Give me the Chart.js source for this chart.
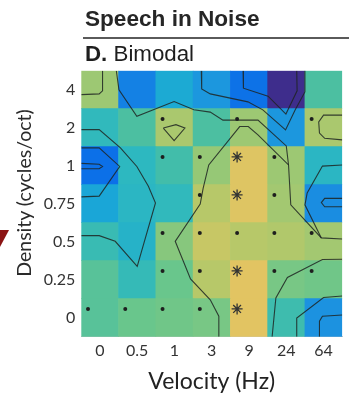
<!DOCTYPE html>
<html><head><meta charset="utf-8">
<script src="https://cdn.jsdelivr.net/npm/chart.js@4"></script>
<style>
html,body{margin:0;padding:0;background:#fff;}
#wrap{position:relative;width:349px;height:398px;overflow:hidden;background:#fff;}
#c{position:absolute;left:0;top:0;}
.t1{position:absolute;left:85px;top:8.2px;font:bold 22.6px "Liberation Sans",Arial,sans-serif;line-height:22px;color:#262626;white-space:nowrap;}
.rule{position:absolute;left:82.7px;right:0;top:36.8px;height:2px;background:#5a5a5a;}
.t2{position:absolute;left:85px;top:43.1px;font:22.3px "Liberation Sans",Arial,sans-serif;line-height:22px;color:#1e1e1e;white-space:nowrap;}
.t2 b{font-weight:bold;}
.ytitle{position:absolute;left:22.5px;top:193.3px;transform:translate(-50%,-50%) rotate(-90deg);font:19.5px Lato,sans-serif;color:#2a2a2a;white-space:nowrap;}
.arrow{position:absolute;left:0;top:230px;width:9px;height:17px;background:#8b1414;clip-path:polygon(0 0,100% 0,0 100%);}
</style>
</head><body>
<div id="wrap">
<canvas id="c" width="349" height="398"></canvas>
<div class="t1">Speech in Noise</div>
<div class="rule"></div>
<div class="t2"><b>D.</b> Bimodal</div>
<div class="ytitle">Density (cycles/oct)</div>
<div class="arrow"></div>
</div>
<script>
// ---- axes ----
const velocityLabels = ['0', '0.5', '1', '3', '9', '24', '64'];
const densityLabels = ['0', '0.25', '0.5', '0.75', '1', '2', '4']; // bottom -> top

// ---- heat map values (colour index: 0 = dark purple ... 0.76 = yellow), one array per density row ----
const heatD4   = [0.63, 0.20, 0.37, 0.29, 0.14, 0.00, 0.51];
const heatD2   = [0.45, 0.51, 0.65, 0.51, 0.63, 0.29, 0.65];
const heatD1   = [0.13, 0.44, 0.49, 0.62, 0.75, 0.63, 0.43];
const heatD075 = [0.35, 0.43, 0.45, 0.67, 0.75, 0.64, 0.25];
const heatD05  = [0.47, 0.41, 0.60, 0.70, 0.67, 0.66, 0.64];
const heatD025 = [0.53, 0.46, 0.56, 0.67, 0.76, 0.58, 0.57];
const heatD0   = [0.53, 0.56, 0.57, 0.58, 0.77, 0.48, 0.27];

// ---- significance markers: 0 none, 1 dot, 2 asterisk ----
const sigD4   = [0, 0, 0, 0, 0, 0, 0];
const sigD2   = [0, 0, 1, 0, 1, 0, 1];
const sigD1   = [0, 0, 1, 1, 2, 1, 0];
const sigD075 = [0, 0, 0, 1, 2, 1, 0];
const sigD05  = [0, 0, 1, 1, 1, 1, 1];
const sigD025 = [0, 0, 1, 1, 2, 1, 1];
const sigD0   = [1, 1, 1, 1, 2, 0, 0];

// ---- contour lines, [velocity index, density index] ----
const contourA  = [[0.07,6.5],[0.07,5.97],[-0.02,5.89],[-0.5,5.87]];
const contourP1 = [[3.84,6.5],[3.85,6.04],[4.51,5.83],[4.99,5.36],[5.29,5.97],[5.28,6.5]];
const contourP2 = [[2.72,6.5],[2.73,6.02],[2.96,5.89],[3.97,5.68],[4.37,5.47],[4.98,4.94],[5.24,5.47],[5.50,5.94],[5.50,6.5]];
const contourP3 = [[0.44,6.5],[0.51,6.0],[0.99,5.3],[1.99,5.69],[2.52,5.47],[2.96,5.41],[3.30,5.20],[4.24,5.20],[5.00,4.52],[5.06,4.02]];
const contourC  = [[6.5,5.33],[6.0,5.33],[5.87,5.15],[5.89,4.86],[6.03,4.72],[6.5,4.68]];
const contourD  = [[1.70,4.99],[2.04,5.08],[2.28,4.99],[1.99,4.66],[1.70,4.99]];
const contourE  = [[-0.5,4.47],[-0.02,4.47],[0.53,3.98],[-0.02,3.20],[-0.5,3.18]];
const contourE2 = [[-0.5,4.06],[-0.02,4.04],[0.07,3.98],[-0.02,3.92],[-0.5,3.92]];
const contourK  = [[-0.5,4.95],[-0.02,4.95],[0.55,4.47],[0.99,3.98],[1.30,3.46],[1.49,3.02],[1.0,1.35],[0.41,2.01],[-0.02,2.16],[-0.5,2.16]];
const contourF  = [[3.19,-0.5],[3.19,0.04],[2.96,0.47],[2.43,1.02],[2.02,2.01],[2.69,2.99],[2.77,3.41],[2.92,4.02],[3.75,5.03],[3.98,5.03],[4.24,4.81],[5.06,4.02],[5.12,2.97],[5.94,2.10],[6.5,2.07]];
const contourJ  = [[6.5,4.02],[5.97,3.99],[5.56,3.28],[5.50,2.97],[5.94,2.10]];
const contourJ2 = [[6.5,3.14],[6.03,3.14],[5.94,3.03],[6.03,2.92],[6.5,2.92]];
const contourG  = [[6.5,1.54],[5.97,1.53],[5.03,1.06],[4.72,0.52],[4.62,-0.5]];
const contourH  = [[6.5,0.57],[6.0,0.53],[5.28,-0.01],[5.28,-0.5]];
const contourI  = [[6.5,0.07],[5.97,0.04],[5.89,-0.09],[5.89,-0.5]];

const heatRows = [heatD0, heatD025, heatD05, heatD075, heatD1, heatD2, heatD4];
const sigRows = [sigD0, sigD025, sigD05, sigD075, sigD1, sigD2, sigD4];
const contours = [contourA, contourP1, contourP2, contourP3, contourC, contourD, contourE, contourE2,
                  contourK, contourF, contourJ, contourJ2, contourG, contourH, contourI];

// parula-like colour map
const cmapStops = [
  [0.00, [62, 45, 140]], [0.13, [12, 112, 232]], [0.27, [28, 146, 224]], [0.36, [26, 168, 214]],
  [0.44, [45, 184, 192]], [0.50, [70, 190, 165]], [0.56, [105, 198, 140]], [0.62, [150, 200, 118]],
  [0.68, [190, 200, 102]], [0.76, [226, 196, 98]]
];
function cmap(v) {
  if (v <= cmapStops[0][0]) return 'rgb(' + cmapStops[0][1].join(',') + ')';
  for (let i = 1; i < cmapStops.length; i++) {
    const [v1, c1] = cmapStops[i], [v0, c0] = cmapStops[i - 1];
    if (v <= v1) {
      const t = (v - v0) / (v1 - v0);
      return 'rgb(' + c0.map((a, k) => Math.round(a + (c1[k] - a) * t)).join(',') + ')';
    }
  }
  return 'rgb(' + cmapStops[cmapStops.length - 1][1].join(',') + ')';
}

const datasets = [];
heatRows.forEach((row, r) => {
  datasets.push({
    type: 'bar', order: 10,
    data: row.map((v, c) => ({x: c, y: [r - 0.5, r + 0.5]})),
    backgroundColor: row.map(cmap),
    borderWidth: 0, grouped: false, barPercentage: 1, categoryPercentage: 1
  });
});
contours.forEach(cn => {
  datasets.push({
    type: 'line', order: 2,
    data: cn.map(([x, y]) => ({x, y})),
    borderColor: 'rgba(30,36,34,0.85)', borderWidth: 1.1,
    pointRadius: 0, fill: false, tension: 0
  });
});
const dotPts = [], starPts = [];
sigRows.forEach((row, r) => row.forEach((s, c) => {
  if (s === 1) dotPts.push({x: c - 0.32, y: r + 0.23});
  if (s === 2) starPts.push({x: c - 0.32, y: r + 0.23});
}));
datasets.push({type: 'scatter', order: 0, data: dotPts, pointStyle: 'circle', pointRadius: 2,
  backgroundColor: '#1e1e1e', borderWidth: 0});
datasets.push({type: 'scatter', order: 0, data: starPts, pointStyle: 'star', pointRadius: 5.5,
  borderColor: '#333', borderWidth: 1.3, backgroundColor: 'transparent'});

new Chart(document.getElementById('c'), {
  type: 'bar',
  data: {datasets},
  options: {
    responsive: false, animation: false, devicePixelRatio: 1,
    layout: {padding: {top: 70.7, right: 1, left: 0, bottom: 0}},
    plugins: {legend: {display: false}, tooltip: {enabled: false}},
    events: [],
    scales: {
      x: {
        type: 'linear', min: -0.5, max: 6.5, offset: false,
        grid: {display: false, offset: false, drawTicks: false},
        border: {display: true, color: '#c8c8c8', width: 1},
        afterBuildTicks: s => { s.ticks = velocityLabels.map((_, i) => ({value: i})); },
        afterFit: s => { s.height = 61.3; },
        ticks: {callback: v => velocityLabels[v], font: {family: 'Lato', size: 16}, color: '#333', padding: 5, maxRotation: 0, autoSkip: false},
        title: {display: true, text: 'Velocity (Hz)', font: {family: 'Lato', size: 23}, color: '#222', padding: {top: 0, bottom: 3}}
      },
      y: {
        type: 'linear', min: -0.5, max: 6.5,
        grid: {display: false, drawTicks: false},
        border: {display: false},
        afterBuildTicks: s => { s.ticks = densityLabels.map((_, i) => ({value: i})); },
        afterFit: s => { s.width = 81.3; },
        ticks: {callback: v => densityLabels[v], font: {family: 'Lato', size: 16}, color: '#333', padding: 6, autoSkip: false}
      }
    }
  }
});
</script>
</body></html>
